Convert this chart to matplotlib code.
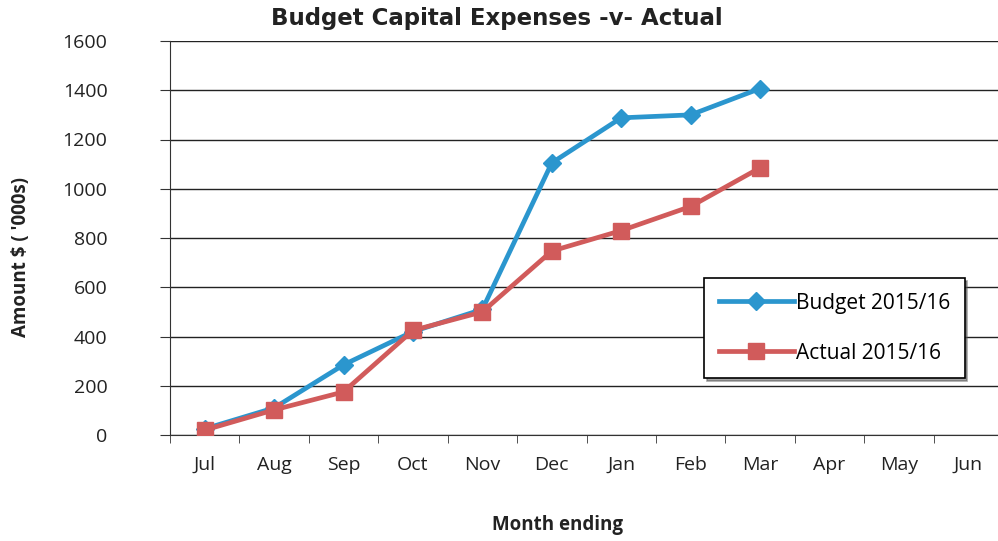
import matplotlib
matplotlib.use("Agg")
import matplotlib.pyplot as plt
import numpy as np

months = ["Jul", "Aug", "Sep", "Oct", "Nov", "Dec", "Jan", "Feb", "Mar", "Apr", "May", "Jun"]
budget = [25, 110, 285, 420, 510, 1105, 1288, 1300, 1407]
actual = [20, 102, 175, 425, 500, 747, 830, 928, 1085]
yticks = [0, 200, 400, 600, 800, 1000, 1200, 1400, 1600]

plt.rcParams['font.family'] = ['Open Sans', 'DejaVu Sans']

W, H = 998, 541
fig = plt.figure(figsize=(W/100, H/100), dpi=100)
ax = fig.add_axes([170/W, 1-435/H, 833/W, 394/H])

x = np.arange(len(months))
blue = "#2B96CE"
red = "#D15B5B"
ax.plot(x[:len(budget)], budget, color=blue, lw=3.4, marker="D", ms=9,
        markeredgecolor=blue, label="Budget 2015/16", zorder=3)
ax.plot(x[:len(actual)], actual, color=red, lw=3.4, marker="s", ms=11,
        markeredgecolor=red, label="Actual 2015/16", zorder=4)

ax.set_xlim(-0.5, len(months) - 0.5)
ax.set_ylim(0, 1600)
ax.set_yticks(yticks)
ax.set_yticklabels([str(v) for v in yticks], fontsize=14, color="#222222")
ax.set_xticks(x)
ax.set_xticklabels(months, fontsize=14, color="#222222")
ax.set_xticks(np.arange(-0.5, len(months), 1), minor=True)
ax.tick_params(axis="x", which="major", length=0, pad=15)
ax.tick_params(axis="x", which="minor", length=6, direction="out", color="#333333")
ax.tick_params(axis="y", length=7, direction="out", pad=38, color="#333333")
ax.grid(axis="y", color="#222222", lw=1.0)
for s in ["top", "right"]:
    ax.spines[s].set_visible(False)
ax.spines["left"].set_color("#333333")
ax.spines["bottom"].set_color("#333333")

fig.text(497/W, 1-18/H, "Budget Capital Expenses -v- Actual", fontsize=16.5,
         fontweight="bold", family="DejaVu Sans", ha="center", va="center", color="#222222")
fig.text(21/W, 1-257/H, "Amount $ ( '000s)", fontsize=13.5, fontweight="bold",
         rotation=90, ha="center", va="center", color="#222222")
fig.text(558/W, 1-525/H, "Month ending", fontsize=13.5, fontweight="bold",
         ha="center", va="center", color="#222222")

leg = ax.legend(loc="upper left", bbox_to_anchor=((704-170)/833, (435-278)/394),
                fontsize=15, frameon=True, fancybox=False, shadow=True,
                edgecolor="black", handlelength=3.6, handletextpad=0.1,
                borderpad=0.7, labelspacing=1.4, borderaxespad=0)
leg.get_frame().set_linewidth(1.2)
leg.get_frame().set_alpha(1)

fig.savefig("out.png", dpi=100)
